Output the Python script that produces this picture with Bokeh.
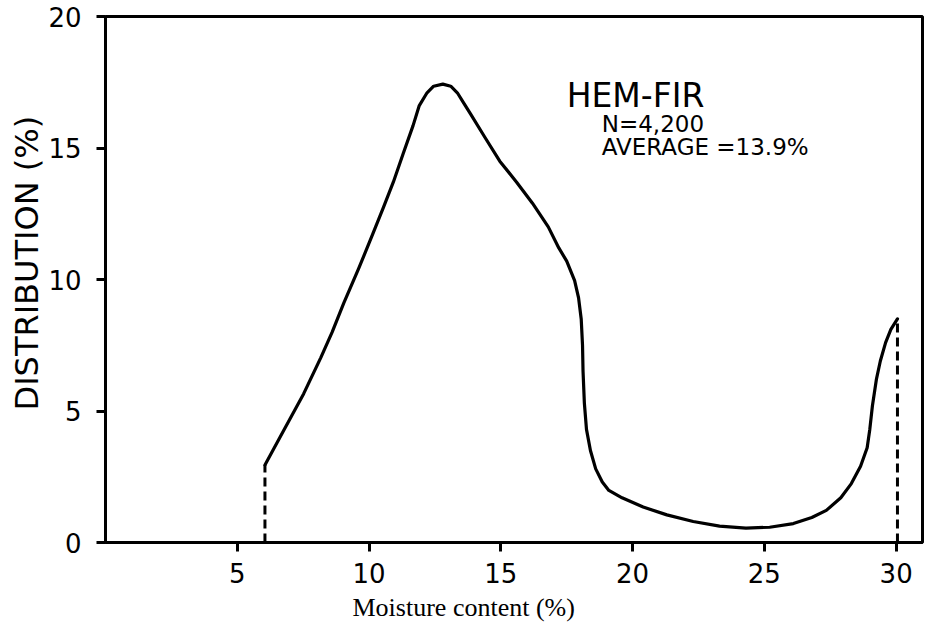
from bokeh.plotting import figure
from bokeh.models import Range1d, FixedTicker, Label, Title
from bokeh.embed import file_html
from bokeh.resources import INLINE

# Curve: moisture content (%) vs distribution (%)
moisture = [6.05, 6.76, 7.52, 8.17, 8.6, 9.04, 9.6, 10.15, 10.55, 10.92, 11.3,
            11.67, 11.9, 12.2, 12.45, 12.8, 13.1, 13.35, 13.6, 13.85, 14.4,
            14.96, 15.6, 16.2, 16.8, 17.2, 17.5, 17.8, 17.95, 18.05, 18.1,
            18.12, 18.17, 18.25, 18.4, 18.6, 18.85, 19.1, 19.6, 20.4, 21.3,
            22.3, 23.3, 24.3, 25.2, 26.1, 26.8, 27.35, 27.9, 28.3, 28.65,
            28.9, 29.0, 29.1, 29.25, 29.4, 29.6, 29.8, 30.05]
distribution = [2.95, 4.26, 5.66, 7.03, 8.0, 9.1, 10.4, 11.75, 12.75, 13.7, 14.8,
                15.85, 16.6, 17.1, 17.35, 17.43, 17.35, 17.1, 16.7, 16.3, 15.4,
                14.5, 13.7, 12.9, 12.0, 11.2, 10.7, 9.96, 9.3, 8.5, 7.5,
                6.5, 5.3, 4.3, 3.5, 2.8, 2.3, 1.98, 1.7, 1.35, 1.05,
                0.8, 0.62, 0.55, 0.58, 0.72, 0.95, 1.22, 1.7, 2.24, 2.9,
                3.6, 4.3, 5.2, 6.2, 6.9, 7.6, 8.1, 8.5]

x_ticks = [5, 10, 15, 20, 25, 30]
y_ticks = [0, 5, 10, 15, 20]
x_label = "Moisture content (%)"
y_label = "DISTRIBUTION (%)"
notes = ["HEM-FIR", "N=4,200", "AVERAGE =13.9%"]

p = figure(width=926, height=628, output_backend="svg", toolbar_location=None,
           x_range=Range1d(0, 31), y_range=Range1d(0, 20),
           min_border_left=105, min_border_right=4, min_border_top=16,
           min_border_bottom=86)
p.xgrid.visible = False
p.ygrid.visible = False
p.background_fill_color = "white"
p.border_fill_color = "white"
p.outline_line_color = "black"
p.outline_line_width = 3

for ax in (p.xaxis[0], p.yaxis[0]):
    ax.axis_line_width = 3
    ax.axis_line_color = "black"
    ax.major_tick_line_width = 3
    ax.major_tick_line_color = "black"
    ax.major_tick_in = 0
    ax.major_tick_out = 9
    ax.minor_tick_line_color = None
    ax.major_label_text_font = "DejaVu Sans"
    ax.major_label_text_font_size = "26px"
    ax.major_label_text_color = "black"

p.xaxis.ticker = FixedTicker(ticks=x_ticks)
p.yaxis.ticker = FixedTicker(ticks=y_ticks)
p.xaxis.major_label_standoff = 11
p.yaxis.major_label_standoff = 15

p.line(moisture, distribution, line_color="black", line_width=3.2,
       line_join="round", line_cap="round")
# dashed verticals at both ends of the curve
p.line([moisture[0], moisture[0]], [0, distribution[0]], line_color="black",
       line_width=3, line_dash="9 5")
p.line([moisture[-1], moisture[-1]], [0, distribution[-1]], line_color="black",
       line_width=3, line_dash="9 5")

p.add_layout(Label(x=17.5, y=17.0, text=notes[0], text_font="DejaVu Sans",
                   text_font_size="33px", text_color="black",
                   text_baseline="alphabetic"))
p.add_layout(Label(x=18.83, y=15.93, text=notes[1], text_font="DejaVu Sans",
                   text_font_size="23px", text_color="black",
                   text_baseline="alphabetic"))
p.add_layout(Label(x=18.83, y=15.02, text=notes[2], text_font="DejaVu Sans",
                   text_font_size="23px", text_color="black",
                   text_baseline="alphabetic"))

p.add_layout(Title(text=x_label, align="left", offset=247, standoff=10,
                   text_font="Liberation Serif", text_font_size="26px",
                   text_font_style="normal", text_color="black"), "below")
p.add_layout(Title(text=y_label, align="left", offset=132, standoff=0,
                   text_font="DejaVu Sans", text_font_size="32px",
                   text_font_style="normal", text_color="black"), "left")

open("out.html", "w").write(file_html(p, INLINE))
